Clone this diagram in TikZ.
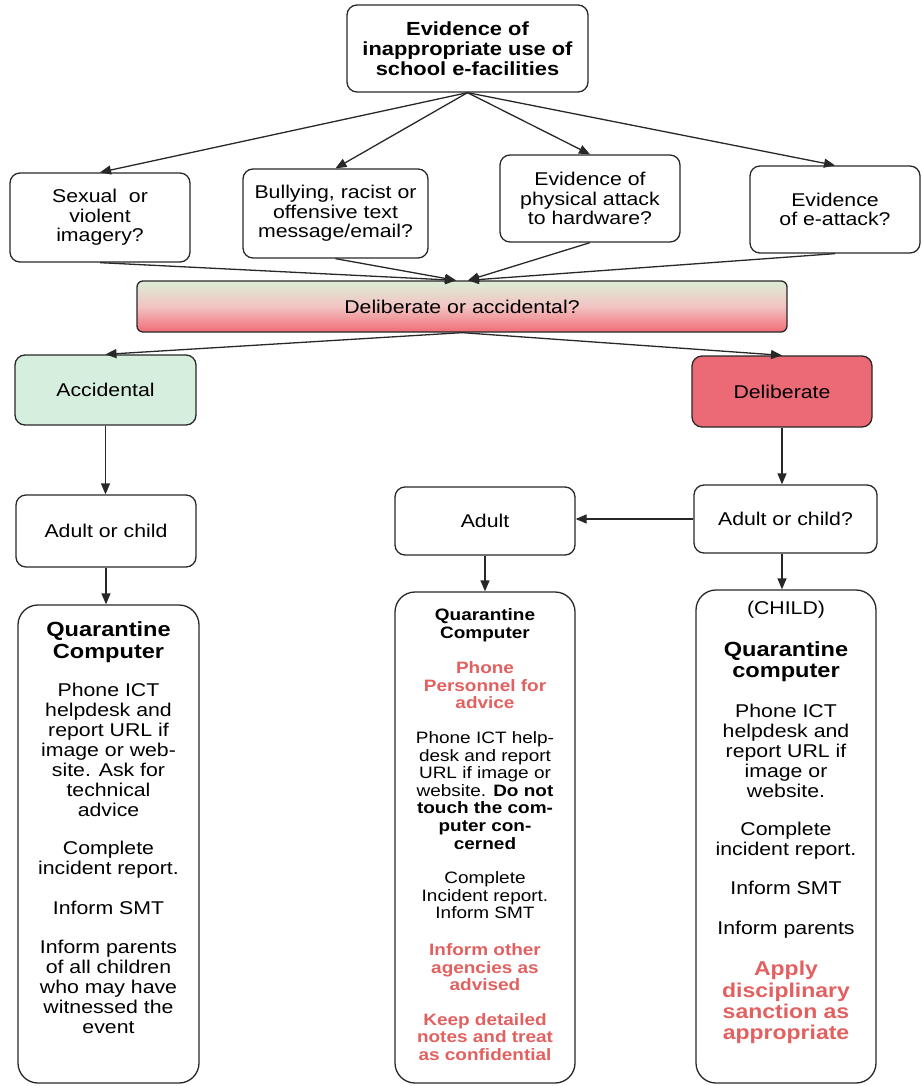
\documentclass[tikz,border=0pt]{standalone}
\usepackage{fontspec}
\setmainfont{Liberation Sans}[FakeStretch=1.15]
\usepackage{tikz}
\usetikzlibrary{arrows.meta,positioning}
\definecolor{AccColor}{RGB}{214,238,222}
\definecolor{DelColor}{RGB}{236,106,118}
\definecolor{GradTop} {RGB}{220,236,214}
\definecolor{GradMid} {RGB}{242,196,194}
\definecolor{GradBot} {RGB}{240,108,118}
\definecolor{RedText} {RGB}{226,96,96}
\definecolor{LineCol} {RGB}{40,40,40}
\newcommand{\boxfont}{\fontsize{18.5}{19.5}\selectfont}
\newcommand{\topfont}{\fontsize{19}{20}\selectfont\bfseries}
\newcommand{\bigfont}{\fontsize{18.5}{20}\selectfont}
\newcommand{\midfont}{\fontsize{16.5}{17.6}\selectfont}
\newcommand{\hd}[1]{{\fontsize{20.5}{20}\selectfont\bfseries #1}}
\newcommand{\rd}[1]{{\color{RedText}\bfseries #1}}
\newcommand{\rdbig}[1]{{\fontsize{20}{20}\selectfont\color{RedText}\bfseries #1}}

\begin{document}
\begin{tikzpicture}[x=1pt,y=-1pt,every node/.style={align=center,font=\boxfont,inner sep=0pt},
  box/.style={draw=LineCol,line width=1.3pt,rounded corners=10pt},
  bigbox/.style={draw=LineCol,line width=1.3pt,rounded corners=20pt},
  arr/.style={-{Triangle[length=11pt,width=9pt]},line width=1.3pt,draw=LineCol}]
\useasboundingbox (0,0) rectangle (922,1086);
% top and the four kinds of evidence
\node[box,minimum width=241pt,minimum height=87pt,font=\topfont] (evid) at (467.5,48.5) {Evidence of\\inappropriate use of\\school e-facilities};
\node[box,minimum width=180pt,minimum height=89pt] (sex) at (100,217.5) {Sexual~ or\\violent\\imagery?};
\node[box,minimum width=185pt,minimum height=89pt] (bully) at (335.5,213.5) {Bullying, racist or\\offensive text\\message/email?};
\node[box,minimum width=180pt,minimum height=87pt] (phys) at (590,198.5) {Evidence of\\physical attack\\to hardware?};
\node[box,minimum width=170pt,minimum height=87pt] (eatt) at (835,209.5) {Evidence\\of e-attack?};
\foreach \n in {sex,bully,phys,eatt} \draw[arr] (evid.south) -- (\n.north);
% deliberate or accidental
\node[box,rounded corners=6pt,minimum width=650pt,minimum height=51pt,top color=GradTop,bottom color=GradBot,middle color=GradMid] (dq) at (462,306.5) {Deliberate or accidental?};
\foreach \n in {sex,bully} \draw[arr] (\n.south) -- ([xshift=-6pt]dq.north);
\foreach \n in {phys,eatt} \draw[arr] (\n.south) -- ([xshift=6pt]dq.north);
\node[box,fill=AccColor,minimum width=181pt,minimum height=70pt] (acc) at (105.5,390) {Accidental};
\node[box,fill=DelColor,minimum width=180pt,minimum height=71pt] (del) at (782,391.5) {Deliberate};
\draw[arr] (dq.south) -- (acc.north);
\draw[arr] (dq.south) -- (del.north);
% accidental branch
\node[box,minimum width=180pt,minimum height=72pt] (adch) at (106,531) {Adult or child};
\node[bigbox,minimum width=181pt,minimum height=478pt] (lbox) at (108.5,844) {};
\draw[arr] (acc.south) -- (acc.south |- adch.north);
\draw[arr] (adch.south) -- (adch.south |- lbox.north);
\node[below=17pt of lbox.north,font=\bigfont] (ltxt) {\hd{Quarantine}\\[2pt]\hd{Computer}\\[18pt]
  Phone ICT\\helpdesk and\\report URL if\\image or web-\\site. Ask for\\technical\\advice\\[18pt]
  Complete\\incident report.\\[20pt]
  Inform SMT\\[19pt]
  Inform parents\\of all children\\who may have\\witnessed the\\event};
% deliberate branch
\node[box,minimum width=183pt,minimum height=68pt] (adq) at (785.5,519) {Adult or child?};
\node[box,minimum width=180pt,minimum height=68pt] (adult) at (485,521) {Adult};
\node[bigbox,minimum width=180pt,minimum height=491pt] (mbox) at (485,837.5) {};
\node[bigbox,minimum width=180pt,minimum height=493pt] (rbox) at (786,836.5) {};
\draw[arr] (del.south) -- (del.south |- adq.north);
\draw[arr] (adq.west) -- (adq.west -| adult.east);
\draw[arr] (adult.south) -- (adult.south |- mbox.north);
\draw[arr] (del.south |- adq.south) -- (del.south |- rbox.north);
\node[below=17pt of mbox.north,font=\midfont] (mtxt) {\textbf{Quarantine}\\\textbf{Computer}\\[18pt]
  \rd{Phone}\\\rd{Personnel for}\\\rd{advice}\\[17pt]
  Phone ICT help-\\desk and report\\URL if image or\\website. \textbf{Do not}\\\textbf{touch the com-}\\\textbf{puter con-}\\\textbf{cerned}\\[17pt]
  Complete\\Incident report.\\Inform SMT\\[19pt]
  \rd{Inform other}\\\rd{agencies as}\\\rd{advised}\\[17pt]
  \rd{Keep detailed}\\\rd{notes and treat}\\\rd{as confidential}};
\node[below=12pt of rbox.north,font=\bigfont] (rtxt) {(CHILD)\\[22pt]
  \hd{Quarantine}\\[1pt]\hd{computer}\\[20pt]
  Phone ICT\\helpdesk and\\report URL if\\image or\\website.\\[18pt]
  Complete\\incident report.\\[19pt]
  Inform SMT\\[20pt]
  Inform parents\\[21pt]
  \rdbig{Apply}\\[2pt]\rdbig{disciplinary}\\[1pt]\rdbig{sanction as}\\[1pt]\rdbig{appropriate}};
\end{tikzpicture}
\end{document}
